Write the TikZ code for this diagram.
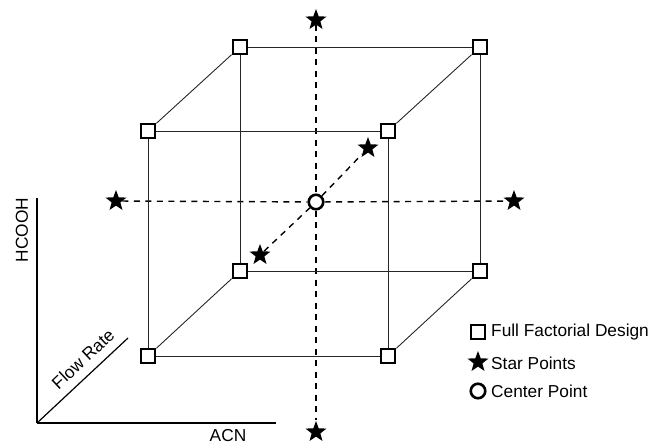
\documentclass[tikz,border=0pt]{standalone}
\usepackage{fontspec}
\setmainfont{Liberation Sans}
\usetikzlibrary{shapes.geometric}
\tikzset{
  corner/.style={draw=black, fill=white, line width=2.8pt, minimum size=14pt, inner sep=0pt},
  starpt/.style={star, star points=5, star point ratio=2.4, fill=black, draw=none, minimum size=22pt, inner sep=0pt},
  centerpt/.style={circle, draw=black, fill=white, line width=2.6pt, minimum size=14.5pt, inner sep=0pt},
  edge/.style={draw=black!85, line width=0.9pt},
  axisdash/.style={draw=black, line width=1.4pt, dash pattern=on 6pt off 5.5pt},
  axisline/.style={draw=black, line width=1.2pt},
  lbl/.style={font=\fontsize{17.3}{20}\selectfont, inner sep=0pt},
}
\begin{document}
\begin{tikzpicture}[x=1pt,y=-1pt]
\useasboundingbox (0,0) rectangle (656,444);

% star points on the three axes
\node[starpt] (st) at (316,20) {};
\node[starpt] (sb) at (316,432) {};
\node[starpt] (sl) at (116,201) {};
\node[starpt] (sr) at (514,201) {};
\node[starpt] (sf) at (260,255) {};
\node[starpt] (sk) at (368,148) {};

% centre point
\node[centerpt] (c) at (316,202) {};

% dashed axes through the centre
\draw[axisdash] (st) -- (c);
\draw[axisdash] (c) -- (sb);
\draw[axisdash] (sl) -- (c);
\draw[axisdash] (c) -- (sr);
\draw[axisdash] (sf) -- (c);
\draw[axisdash] (c) -- (sk);

% cube corners: front face and back face
\node[corner] (ftl) at (148,131) {};
\node[corner] (ftr) at (388,131) {};
\node[corner] (fbl) at (148,356) {};
\node[corner] (fbr) at (388,356) {};
\node[corner] (btl) at (240,47) {};
\node[corner] (btr) at (480,47) {};
\node[corner] (bbl) at (240,271) {};
\node[corner] (bbr) at (480,271) {};

% cube edges
\draw[edge] (ftl) -- (ftr);
\draw[edge] (ftr) -- (fbr);
\draw[edge] (fbr) -- (fbl);
\draw[edge] (fbl) -- (ftl);
\draw[edge] (btl) -- (btr);
\draw[edge] (btr) -- (bbr);
\draw[edge] (bbr) -- (bbl);
\draw[edge] (bbl) -- (btl);
\draw[edge] (ftl) -- (btl);
\draw[edge] (ftr) -- (btr);
\draw[edge] (fbl) -- (bbl);
\draw[edge] (fbr) -- (bbr);

% factor axes
\coordinate (o) at (37,423);
\coordinate (ay) at (37,198);
\coordinate (ax) at (276,423);
\coordinate (az) at (128,338);
\draw[axisline] (o) -- (ay);
\draw[axisline] (o) -- (ax);
\draw[axisline] (o) -- (az);
\node[lbl, rotate=90] (lhc) at (22,230) {HCOOH};
\node[lbl] (lacn) at (228,436) {ACN};
\node[lbl, rotate=43] (lfr) at (83,359) {Flow Rate};

% legend
\node[corner] (kq) at (478,332) {};
\node[lbl, anchor=west] (kqt) at (491,332) {Full Factorial Design};
\node[starpt] (ks) at (478,362) {};
\node[lbl, anchor=west] (kst) at (491,363) {Star Points};
\node[centerpt] (kc) at (478,391) {};
\node[lbl, anchor=west] (kct) at (491,391) {Center Point};
\end{tikzpicture}
\end{document}
